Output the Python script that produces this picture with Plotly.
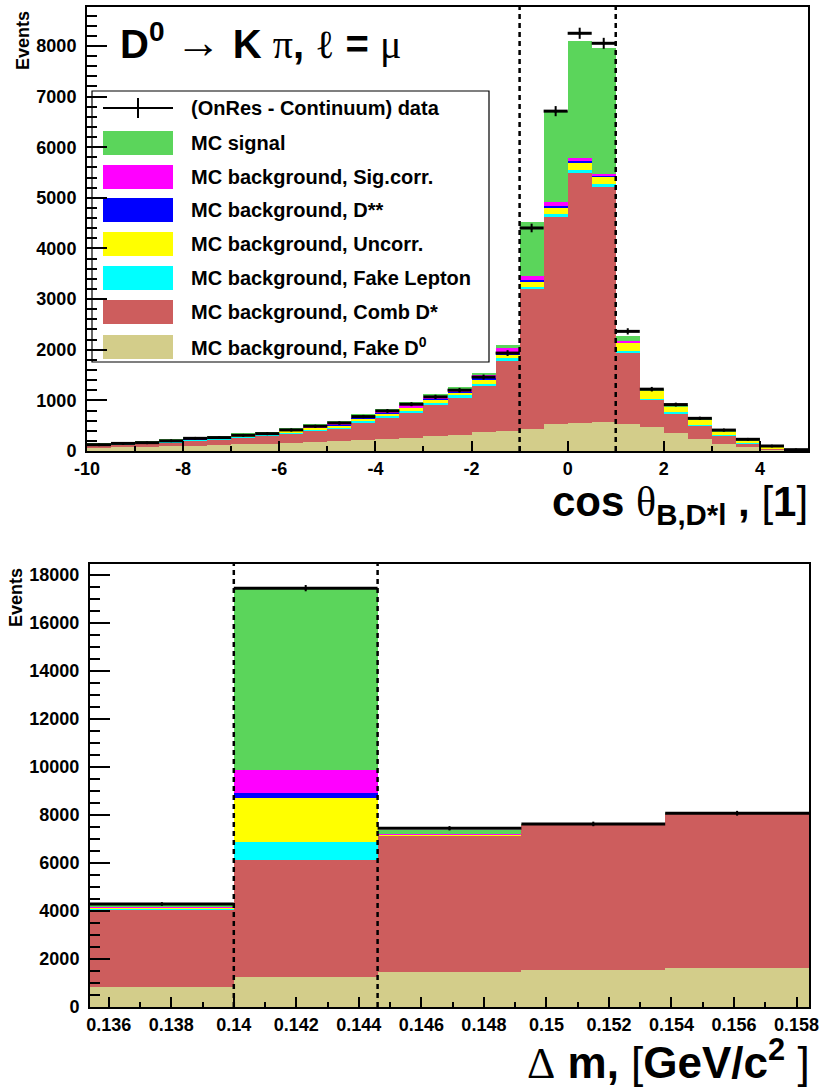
import numpy as np
import plotly.graph_objects as go

W, H = 839, 1088

# ---------------- top panel: cos(theta_B,D*l) ----------------
cos_edges = [-10, -9.5, -9, -8.5, -8, -7.5, -7, -6.5, -6, -5.5, -5, -4.5, -4, -3.5, -3,
             -2.5, -2, -1.5, -1, -0.5, 0, 0.5, 1, 1.5, 2, 2.5, 3, 3.5, 4, 4.5, 5]
cos_fake_d0 = [66, 79, 85, 92, 106, 119, 132, 145, 160, 175, 200, 225, 245, 265, 290,
               320, 376, 396, 436, 528, 561, 567, 541, 475, 363, 231, 145, 79, 30, 8]
cos_comb_dstar = [40, 53, 55, 83, 104, 106, 143, 160, 195, 230, 240, 345, 415, 495, 620,
                  736, 911, 1373, 2766, 4092, 4930, 4647, 1406, 535, 376, 270, 152, 66, 16, 7]
cos_fake_lep = [9, 10, 12, 11, 12, 15, 15, 17, 20, 23, 25, 30, 35, 40, 45,
                44, 33, 66, 46, 67, 67, 60, 20, 26, 27, 20, 20, 13, 4, 2]
cos_uncorr = [10, 10, 11, 12, 14, 16, 18, 18, 25, 27, 35, 40, 45, 50, 55,
              60, 99, 79, 99, 131, 139, 152, 178, 152, 111, 93, 65, 40, 35, 5]
cos_dss = [2, 2, 2, 2, 3, 3, 3, 3, 4, 4, 5, 6, 7, 7, 8,
           10, 20, 33, 25, 20, 26, 20, 5, 2, 2, 2, 1, 1, 1, 0]
cos_sigcorr = [6, 8, 10, 12, 13, 13, 14, 14, 21, 31, 45, 44, 48, 58, 67,
               60, 79, 79, 87, 79, 73, 33, 14, 5, 3, 3, 2, 1, 1, 1]
cos_signal = [7, 8, 10, 10, 10, 13, 15, 13, 20, 35, 40, 35, 30, 45, 35,
              25, 22, 73, 1056, 1796, 2309, 2475, 113, 26, 35, 28, 31, 31, 12, 3]
cos_data = [125, 150, 165, 200, 250, 265, 310, 343, 416, 489, 554, 680, 792, 924, 1069,
            1201, 1460, 1934, 4405, 6713, 8251, 8053, 2363, 1221, 917, 645, 413, 231, 99, 26]
cos_data_err = [15, 16, 17, 18, 20, 21, 23, 24, 26, 28, 30, 33, 36, 39, 42,
                45, 50, 58, 85, 100, 110, 108, 62, 45, 38, 32, 26, 20, 14, 8]
cos_window = [-1, 1]
cos_ticks = [-10, -8, -6, -4, -2, 0, 2, 4]
cos_ticktext = ["-10", "-8", "-6", "-4", "-2", "0", "2", "4"]

# ---------------- bottom panel: Delta m ----------------
dm_edges = [0.1354, 0.14, 0.1446, 0.1492, 0.1538, 0.1584]
dm_fake_d0 = [847, 1264, 1472, 1542, 1639]
dm_comb_dstar = [3233, 4861, 5653, 6041, 6403]
dm_fake_lep = [20, 764, 15, 5, 5]
dm_uncorr = [30, 1833, 40, 5, 5]
dm_dss = [5, 181, 5, 1, 1]
dm_sigcorr = [30, 972, 15, 3, 2]
dm_signal = [65, 7528, 175, 13, 5]
dm_data = [4290, 17444, 7444, 7625, 8069]
dm_data_err = [70, 130, 90, 95, 100]
dm_window = [0.14, 0.1446]
dm_ticks = [0.136, 0.138, 0.14, 0.142, 0.144, 0.146, 0.148, 0.15, 0.152, 0.154, 0.156, 0.158]
dm_ticktext = ["0.136", "0.138", "0.14", "0.142", "0.144", "0.146", "0.148",
               "0.15", "0.152", "0.154", "0.156", "0.158"]

# ---------------- legend ----------------
legend_labels = ["(OnRes - Continuum) data", "MC signal", "MC background, Sig.corr.",
                 "MC background, D**", "MC background, Uncorr.",
                 "MC background, Fake Lepton", "MC background, Comb D*",
                 "MC background, Fake D<sup>0</sup>"]
legend_colors = [None, "#5bd55b", "#ff00ff", "#0000ff", "#ffff00", "#00ffff",
                 "#cd5d5d", "#d3cd8a"]

comp_colors = ["#d3cd8a", "#cd5d5d", "#00ffff", "#ffff00", "#0000ff", "#ff00ff", "#5bd55b"]

FONT = "Liberation Sans"
SERIF = "Liberation Serif"


def px(x):
    return x / W


def py(y):
    return 1 - y / H


fig = go.Figure()


def add_panel(edges, comps, data, err, xa, ya):
    e = np.array(edges, dtype=float)
    centers = (e[:-1] + e[1:]) / 2
    widths = np.diff(e)
    for vals, col in zip(comps, comp_colors):
        fig.add_trace(go.Bar(x=centers, y=vals, width=widths, marker_color=col,
                             marker_line_width=0, xaxis=xa, yaxis=ya,
                             showlegend=False, hoverinfo="skip"))
    fig.add_trace(go.Scatter(x=centers, y=data, mode="markers",
                             marker=dict(size=3, color="black"),
                             error_x=dict(type="data", array=widths / 2, width=0,
                                          thickness=3, color="black"),
                             error_y=dict(type="data", array=err, width=0,
                                          thickness=2, color="black"),
                             xaxis=xa, yaxis=ya, showlegend=False))


add_panel(cos_edges, [cos_fake_d0, cos_comb_dstar, cos_fake_lep, cos_uncorr, cos_dss,
                      cos_sigcorr, cos_signal], cos_data, cos_data_err, "x", "y")
add_panel(dm_edges, [dm_fake_d0, dm_comb_dstar, dm_fake_lep, dm_uncorr, dm_dss,
                     dm_sigcorr, dm_signal], dm_data, dm_data_err, "x2", "y2")

tickfont = dict(family=FONT, size=18, color="black", weight="bold")
axis_common = dict(showline=True, mirror=True, linewidth=2, linecolor="black",
                   showgrid=False, zeroline=False, ticks="inside", tickcolor="black",
                   tickfont=tickfont, automargin=False)

fig.update_layout(
    width=W, height=H,
    margin=dict(l=0, r=0, t=0, b=0, pad=0, autoexpand=False),
    paper_bgcolor="white", plot_bgcolor="rgba(0,0,0,0)",
    barmode="stack", bargap=0,
    showlegend=False,
    xaxis=dict(domain=[px(87), px(808)], anchor="y", range=[cos_edges[0], cos_edges[-1]],
               tickmode="array", tickvals=cos_ticks, ticktext=cos_ticktext,
               ticklen=10, tickwidth=1.5,
               minor=dict(dtick=1, tick0=0, ticklen=5, ticks="inside", tickcolor="black"),
               **axis_common),
    yaxis=dict(domain=[py(451), py(7)], anchor="x", range=[0, 8770],
               tickmode="linear", tick0=0, dtick=1000, ticklen=20, tickwidth=1.5,
               tickformat="d", ticklabelstandoff=5,
               minor=dict(dtick=200, tick0=0, ticklen=10, ticks="inside", tickcolor="black"),
               **axis_common),
    xaxis2=dict(domain=[px(90), px(809)], anchor="y2", range=[dm_edges[0], dm_edges[-1]],
                tickmode="array", tickvals=dm_ticks, ticktext=dm_ticktext,
                ticklen=10, tickwidth=1.5,
                minor=dict(dtick=0.001, tick0=0, ticklen=5, ticks="inside", tickcolor="black"),
                **axis_common),
    yaxis2=dict(domain=[py(1007), py(564)], anchor="x2", range=[0, 18450],
                tickmode="linear", tick0=0, dtick=2000, ticklen=20, tickwidth=1.5,
                tickformat="d", ticklabelstandoff=5,
                minor=dict(dtick=500, tick0=0, ticklen=10, ticks="inside", tickcolor="black"),
                **axis_common),
)

shapes = []
dash_line = dict(color="black", width=2.5, dash="5px,4px")
for xv in cos_window:
    shapes.append(dict(type="line", xref="x", yref="y domain", x0=xv, x1=xv, y0=0, y1=1,
                       line=dash_line, layer="above"))
for xv in dm_window:
    shapes.append(dict(type="line", xref="x2", yref="y2 domain", x0=xv, x1=xv, y0=0, y1=1,
                       line=dash_line, layer="above"))

# legend box (drawn manually, ROOT TLegend style)
shapes.append(dict(type="rect", xref="paper", yref="paper", x0=px(92), x1=px(489),
                   y0=py(362), y1=py(91), fillcolor="white",
                   line=dict(color="black", width=1.2), layer="below"))
annotations = []
row_y = [108, 143, 177, 210, 244, 278, 312, 347]
for lab, col, ry in zip(legend_labels, legend_colors, row_y):
    if col is None:
        shapes.append(dict(type="line", xref="paper", yref="paper", x0=px(103), x1=px(173),
                           y0=py(ry), y1=py(ry), line=dict(color="black", width=2),
                           layer="below"))
        shapes.append(dict(type="line", xref="paper", yref="paper", x0=px(138), x1=px(138),
                           y0=py(ry - 10), y1=py(ry + 10), line=dict(color="black", width=2),
                           layer="below"))
    else:
        shapes.append(dict(type="rect", xref="paper", yref="paper", x0=px(103), x1=px(173),
                           y0=py(ry + 12), y1=py(ry - 12), fillcolor=col,
                           line=dict(width=0), layer="below"))
    annotations.append(dict(xref="paper", yref="paper", x=px(189), y=py(ry),
                            xanchor="left", yanchor="middle", showarrow=False,
                            text="<b>" + lab + "</b>",
                            font=dict(family=FONT, size=20, color="black")))

sym = "<span style='font-family:%s;font-weight:normal'>%%s</span>" % SERIF
big = "<span style='font-family:%s;font-weight:normal;font-size:46px'>%%s</span>" % SERIF
annotations.append(dict(xref="paper", yref="paper", x=px(118), y=py(42),
                        xanchor="left", yanchor="middle", showarrow=False,
                        text="<b>D<sup>0</sup> </b>" + big % "→" + "<b> K </b>" + sym % "π"
                             + "<b>, </b>" + sym % "ℓ" + "<b> = </b>" + sym % "μ",
                        font=dict(family=FONT, size=40, color="black")))

annotations.append(dict(xref="paper", yref="paper", x=px(810), y=py(504),
                        xanchor="right", yanchor="middle", showarrow=False,
                        text="<b>cos </b>" + sym % "θ" + "<sub><b>B,D*l</b></sub><b> , </b>"
                             + "<span style='font-weight:normal'>[</span><b>1</b>"
                             + "<span style='font-weight:normal'>]</span>",
                        font=dict(family=FONT, size=42, color="black")))

annotations.append(dict(xref="paper", yref="paper", x=px(812), y=py(1060),
                        xanchor="right", yanchor="middle", showarrow=False,
                        text=sym % "Δ" + "<b> m, </b>"
                             + "<span style='font-weight:normal'>[</span><b>GeV/c<sup>2</sup></b>"
                             + "<span style='font-weight:normal'> ]</span>",
                        font=dict(family=FONT, size=44, color="black")))

for xc, yc in [(23, 41), (16, 598)]:
    annotations.append(dict(xref="paper", yref="paper", x=px(xc), y=py(yc),
                            xanchor="center", yanchor="middle", showarrow=False,
                            textangle=-90, text="<b>Events</b>",
                            font=dict(family=FONT, size=18, color="black")))

fig.update_layout(shapes=shapes, annotations=annotations)
fig.write_html("out.html")
